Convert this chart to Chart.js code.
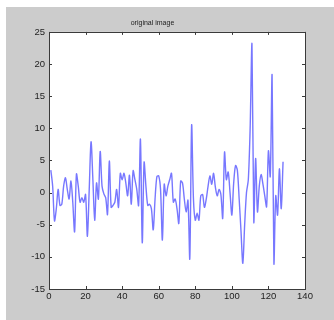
<!DOCTYPE html>
<html><head><meta charset="utf-8">
<script src="https://cdn.jsdelivr.net/npm/chart.js@4"></script>
<style>html,body{margin:0;padding:0;background:#fff;overflow:hidden}#wrap{width:334px;height:320px;position:relative}</style>
</head><body><div id="wrap"><canvas id="c" width="334" height="320"></canvas></div>
<script>
const chartTitle = 'original image';
const signal = [
  3.5, 1.0, -4.4, -2.5, 0.5, -2.0, -1.8, 1.0, 2.3, 0.5,
  -1.0, 1.8, -1.5, -6.1, 2.9, 1.0, -1.5, -0.8, -1.5, -0.3,
  -6.8, 0.5, 7.9, 2.0, -4.3, 1.5, -1.0, 6.4, 1.0, -0.2,
  -0.8, -3.4, 4.9, -2.3, -2.0, -1.5, 0.5, -2.3, 3.0, 2.0,
  3.0, 1.5, -0.5, 2.7, -1.8, 3.4, 2.0, 0.5, -2.0, 8.3,
  -7.8, 4.7, 1.0, -2.0, -1.8, -2.5, -5.8, -1.0, 2.5, 2.6,
  0.5, -7.4, 1.3, -0.5, 1.0, 2.0, 3.0, -1.5, -1.0, -2.5,
  -4.8, 1.8, 1.5, -1.0, -3.0, -1.2, -10.3, 10.5, -1.0, -4.3,
  -3.2, -4.3, -0.5, -0.3, -2.3, -1.0, 1.0, 2.6, 1.3, 3.0,
  0.8, -0.5, 0.5, -0.3, -4.0, 6.3, 2.0, 3.2, 0.0, -3.5,
  1.5, 4.2, 3.5, -1.0, -6.0, -11.0, -5.0, 0.0, 2.0, 10.0,
  23.1, -4.6, 5.3, -3.0, 1.0, 2.8, 1.3, -0.5, -2.2, 6.5,
  2.5, 18.3, -11.0, -0.5, -3.5, 3.7, -2.5, 4.8
];
const xTickValues = [0, 20, 40, 60, 80, 100, 120, 140];
const yTickValues = [-15, -10, -5, 0, 5, 10, 15, 20, 25];

const points = signal.map((v, i) => ({x: i + 1, y: v}));

const frame = {
  id: 'frame',
  beforeDraw(chart) {
    const ctx = chart.ctx, a = chart.chartArea;
    ctx.save();
    ctx.fillStyle = '#ffffff';
    ctx.fillRect(0, 0, chart.width, chart.height);
    ctx.fillStyle = '#cccccc';
    ctx.fillRect(6, 7, chart.width - 6, chart.height - 7);
    ctx.fillStyle = '#ffffff';
    ctx.fillRect(a.left, a.top, a.right - a.left, a.bottom - a.top);
    ctx.restore();
  },
  afterDraw(chart) {
    const ctx = chart.ctx, a = chart.chartArea;
    const xs = chart.scales.x, ys = chart.scales.y;
    ctx.save();
    ctx.strokeStyle = '#3a3a3a';
    ctx.lineWidth = 1;
    ctx.strokeRect(Math.round(a.left) + 0.5, Math.round(a.top) + 0.5,
      Math.round(a.right - a.left), Math.round(a.bottom - a.top));
    const L = 3;
    ctx.beginPath();
    xTickValues.forEach(v => {
      const px = Math.round(xs.getPixelForValue(v)) + 0.5;
      ctx.moveTo(px, a.bottom); ctx.lineTo(px, a.bottom - L);
      ctx.moveTo(px, a.top); ctx.lineTo(px, a.top + L);
    });
    yTickValues.forEach(v => {
      const py = Math.round(ys.getPixelForValue(v)) + 0.5;
      ctx.moveTo(a.left, py); ctx.lineTo(a.left + L, py);
      ctx.moveTo(a.right, py); ctx.lineTo(a.right - L, py);
    });
    ctx.stroke();
    ctx.restore();
  }
};

const tickFont = {family: '"Liberation Sans Narrow", "Liberation Sans", Arial, sans-serif', size: 9.5};

new Chart(document.getElementById('c'), {
  type: 'line',
  data: {
    datasets: [{
      data: points,
      borderColor: 'rgba(85,85,255,0.8)',
      borderWidth: 1.4,
      pointRadius: 0,
      tension: 0.3,
      fill: false
    }]
  },
  options: {
    responsive: false,
    animation: false,
    devicePixelRatio: 1,
    layout: {padding: {top: 0, right: 29, left: 0, bottom: 0}},
    plugins: {
      legend: {display: false},
      tooltip: {enabled: false},
      title: {
        display: true,
        text: chartTitle,
        color: '#222',
        font: {family: '"Liberation Sans", Arial, sans-serif', size: 7, weight: 'normal'},
        padding: {top: 18.5, bottom: 5}
      }
    },
    scales: {
      x: {
        type: 'linear',
        min: 0, max: 140,
        afterBuildTicks: s => { s.ticks = xTickValues.map(v => ({value: v})); },
        afterFit: s => { s.height = 31; },
        grid: {display: false, drawTicks: false},
        border: {display: false},
        ticks: {color: '#222', font: tickFont, padding: 2, maxRotation: 0, autoSkip: false}
      },
      y: {
        type: 'linear',
        min: -15, max: 25,
        afterBuildTicks: s => { s.ticks = yTickValues.map(v => ({value: v})); },
        afterFit: s => { s.width = 49; },
        grid: {display: false, drawTicks: false},
        border: {display: false},
        ticks: {color: '#222', font: tickFont, padding: 4, autoSkip: false}
      }
    }
  },
  plugins: [frame]
});
</script>
</body></html>
